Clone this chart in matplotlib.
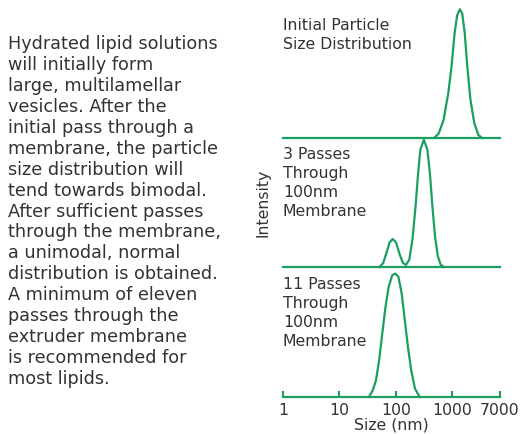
import matplotlib.pyplot as plt

green = "#1a9f5f"
grey = "#333333"

# Size (nm) / relative intensity
size_initial = [475, 576, 700, 850, 966, 1097, 1218, 1355, 1497, 1663, 1846, 2099, 2452, 2899, 3386]
int_initial = [0, 3.6, 14, 35, 55, 81, 95, 99.8, 96.6, 81, 55, 29.5, 11.6, 2.3, 0]

size_3pass = [51.1, 59.7, 68.1, 77.4, 88.0, 100.4, 117.3, 133.3, 151.5, 172.9, 196.5,
              223.4, 248.1, 271.3, 313.2, 361.6, 400.1, 444.2, 493.4, 554.2, 622.6, 707.9]
int_3pass = [0, 3.1, 10.9, 19.1, 21.7, 19.1, 9.5, 3.1, 1.6, 5.7, 21.2,
             47.0, 72.9, 90.9, 98.7, 90.9, 72.9, 47.0, 23.8, 8.3, 1.8, 0]

size_11pass = [33.3, 38.9, 44.4, 50.5, 57.4, 65.5, 74.5, 86.0, 97.7, 111.1, 126.8,
               144.1, 163.8, 187.0, 218.3, 265.0]
int_11pass = [0, 5.2, 12.9, 28.4, 49.1, 69.8, 85.3, 94.4, 95.7, 93.1, 80.2,
              59.4, 38.7, 20.7, 6.4, 0]

labels = ["Initial Particle\nSize Distribution",
          "3 Passes\nThrough\n100nm\nMembrane",
          "11 Passes\nThrough\n100nm\nMembrane"]
xticks = [1, 10, 100, 1000, 7000]
xticklabels = ["1", "10", "100", "1000", "7000"]

paragraph = ("Hydrated lipid solutions\nwill initially form\nlarge, multilamellar\n"
             "vesicles. After the\ninitial pass through a\nmembrane, the particle\n"
             "size distribution will\ntend towards bimodal.\nAfter sufficient passes\n"
             "through the membrane,\na unimodal, normal\ndistribution is obtained.\n"
             "A minimum of eleven\npasses through the\nextruder membrane\n"
             "is recommended for\nmost lipids.")

fig = plt.figure(figsize=(5.23, 4.34), dpi=100)
W, H = 523, 434
left, right = 283, 500
baselines = [138, 267, 397]
ph = 129

curves = [(size_initial, int_initial), (size_3pass, int_3pass), (size_11pass, int_11pass)]
axes = []
for i, (xs, ys) in enumerate(curves):
    b = baselines[i]
    ax = fig.add_axes([left / W, 1 - b / H, (right - left) / W, ph / H])
    ax.plot(xs, ys, color=green, lw=1.6, clip_on=False)
    ax.set_xscale("log")
    ax.set_xlim(1, 7000)
    ax.set_ylim(0, 100)
    for s in ["top", "right", "left"]:
        ax.spines[s].set_visible(False)
    ax.spines["bottom"].set_color(green)
    ax.spines["bottom"].set_linewidth(1.6)
    ax.set_yticks([])
    ax.minorticks_off()
    ax.patch.set_alpha(0)
    ax.text(0, 1 - 9 / ph, labels[i], transform=ax.transAxes, ha="left", va="top",
            fontsize=11.3, color=grey, linespacing=1.32)
    if i < 2:
        ax.set_xticks([])
    else:
        ax.set_xticks(xticks)
        ax.set_xticklabels(xticklabels)
        ax.tick_params(axis="x", direction="in", length=4, width=1.5, color=green,
                       labelsize=11.3, labelcolor=grey, pad=4)
        ax.set_xlabel("Size (nm)", fontsize=11.3, color=grey, labelpad=0)
    axes.append(ax)

axes[1].set_ylabel("Intensity", fontsize=11.3, color=grey, labelpad=9)

fig.text(8 / W, 1 - 35 / H, paragraph, ha="left", va="top", fontsize=12.7,
         color=grey, linespacing=1.21)

fig.savefig("out.png", dpi=100)
